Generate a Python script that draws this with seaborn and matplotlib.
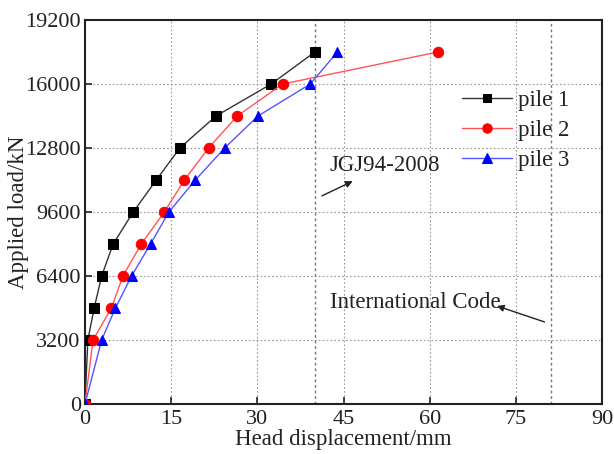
import matplotlib
matplotlib.use("Agg")
import matplotlib.pyplot as plt
import seaborn as sns
import pandas as pd

loads = [0, 3200, 4800, 6400, 8000, 9600, 11200, 12800, 14400, 16000, 17600]
pile1_disp = [0, 0.5, 1.6, 2.9, 4.9, 8.4, 12.4, 16.5, 22.8, 32.4, 40.0]
pile2_disp = [0, 1.4, 4.6, 6.6, 9.8, 13.8, 17.3, 21.5, 26.5, 34.4, 61.4]
pile3_disp = [0, 2.9, 5.3, 8.1, 11.4, 14.6, 19.2, 24.3, 30.1, 39.2, 43.9]
pile_names = ["pile 1", "pile 2", "pile 3"]
x_ticks = [0, 15, 30, 45, 60, 75, 90]
y_ticks = [0, 3200, 6400, 9600, 12800, 16000, 19200]
limit_lines = [40, 81]

rows = []
for name, disp in zip(pile_names, [pile1_disp, pile2_disp, pile3_disp]):
    for d, l in zip(disp, loads):
        rows.append({"pile": name, "disp": d, "load": l})
df = pd.DataFrame(rows)

sns.set_theme(style="white")
plt.rcParams["font.family"] = ["Liberation Serif", "DejaVu Serif"]

fig = plt.figure(figsize=(6.14, 4.54), dpi=100)
ax = fig.add_axes([0.1384, 0.110, 0.981 - 0.1384, 0.956 - 0.110])

line_colors = {"pile 1": "#333333", "pile 2": "#ff5555", "pile 3": "#5555ff"}
marker_colors = {"pile 1": "black", "pile 2": "red", "pile 3": "blue"}
markers = {"pile 1": "s", "pile 2": "o", "pile 3": "^"}
msizes = {"pile 1": 6.5, "pile 2": 7.5, "pile 3": 7.5}

for name in pile_names:
    sub = df[df["pile"] == name]
    sns.lineplot(data=sub, x="disp", y="load", ax=ax, estimator=None, sort=False,
                 color=line_colors[name], linewidth=1.0, marker=markers[name],
                 markersize=msizes[name], markerfacecolor=marker_colors[name],
                 markeredgecolor=marker_colors[name], label=name, zorder=3)

ax.set_xlim(0, 90)
ax.set_ylim(0, 19200)
ax.set_xticks(x_ticks)
ax.set_yticks(y_ticks)
ax.grid(True, linestyle=(0, (1.5, 2)), color="#999999", linewidth=0.8)
for xv in limit_lines:
    ax.axvline(xv, linestyle=(0, (2, 2)), color="#777777", linewidth=1.0, zorder=1)

for s in ax.spines.values():
    s.set_color("#222222")
    s.set_linewidth(1.5)
ax.tick_params(axis="both", direction="in", length=5, width=1.2, labelsize=16,
               colors="#222222", top=False, right=False, bottom=True, left=True, pad=3)
ax.tick_params(axis="x", pad=4)
for lab in ax.get_xticklabels() + ax.get_yticklabels():
    lab.set_color("#222222")

ax.set_xlabel("Head displacement/mm", fontsize=16.5, labelpad=0, color="#222222")
ax.set_ylabel("Applied load/kN", fontsize=16.5, labelpad=-3, color="#222222")

ax.annotate("", xy=(47.0, 11200), xytext=(40.8, 10350),
            arrowprops=dict(arrowstyle="-|>", color="#222222", lw=1.0, mutation_scale=10))
ax.text(52.2, 11950, "JGJ94-2008", fontsize=16.5, ha="center", va="center", color="#222222")

ax.annotate("", xy=(71.2, 4950), xytext=(80.4, 4060),
            arrowprops=dict(arrowstyle="-|>", color="#222222", lw=1.0, mutation_scale=10))
ax.text(42.6, 5100, "International Code", fontsize=16.5, ha="left", va="center", color="#222222")

leg = ax.legend(loc="upper left", bbox_to_anchor=(0.697, 0.86), frameon=False, fontsize=16.5,
                handlelength=2.2, handletextpad=0.25, labelspacing=0.4, borderpad=0.2,
                markerscale=0.9)
for t in leg.get_texts():
    t.set_color("#222222")

fig.savefig("out.png", dpi=100)
